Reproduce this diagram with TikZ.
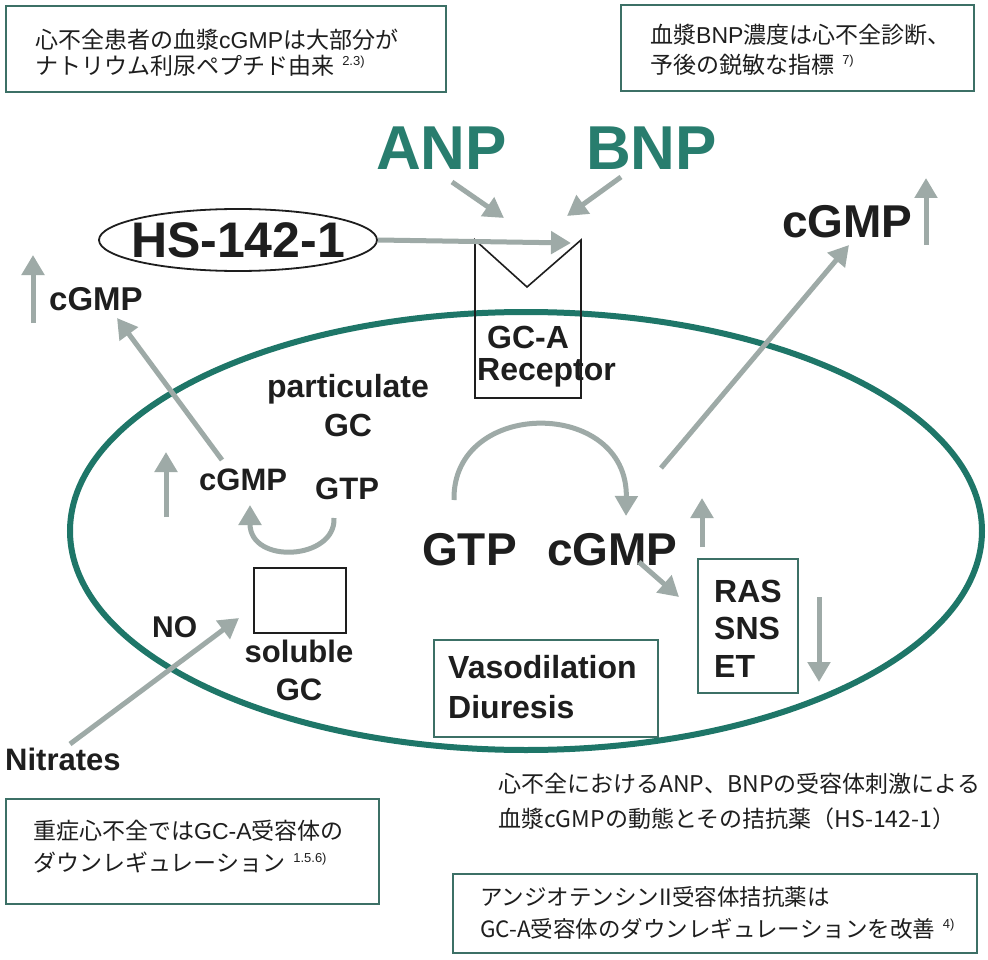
\documentclass[tikz,border=0pt]{standalone}
\usepackage{fontspec}
\setmainfont{Liberation Sans}
\newfontfamily\jpfont{Noto Sans CJK JP}
\usetikzlibrary{arrows.meta,shapes.geometric}
\definecolor{tealtxt}{RGB}{40,125,110}
\definecolor{cellc}{RGB}{30,118,104}
\definecolor{boxc}{RGB}{60,112,102}
\definecolor{arrc}{RGB}{158,170,167}
\definecolor{ink}{RGB}{30,30,30}
\newcommand\refnum[1]{\hspace{0.35em}\raisebox{9pt}{\normalfont\fontsize{13}{13}\selectfont #1}}
\newcommand\lat[1]{{\normalfont #1}}
\begin{document}
\begin{tikzpicture}[x=1pt,y=-1pt,
  lab/.style={font=\bfseries\fontsize{32}{32}\selectfont, text=ink, inner sep=0pt, anchor=base west},
  big/.style={lab, font=\bfseries\fontsize{46}{46}\selectfont},
  huge/.style={lab, font=\bfseries\fontsize{62}{62}\selectfont, text=tealtxt},
  jtext/.style={font=\jpfont\fontsize{23}{23}\selectfont, text=ink, inner sep=0pt, anchor=base west},
  jbox/.style={draw=boxc, line width=2pt, anchor=north west, inner sep=0pt},
  arr/.style={draw=arrc, line width=5pt, -{Triangle[width=22pt,length=20pt]}},
]
\fill[white] (0,0) rectangle (988,960);
\useasboundingbox (0,0) rectangle (988,960);

% cell membrane
\node[draw=cellc, line width=6pt, ellipse, minimum width=912pt, minimum height=438pt, inner sep=0pt] (cell) at (526,531) {};

% text boxes
\node[jbox, minimum width=440pt, minimum height=86pt] (boxTL) at (5,5) {};
\node[jtext] (tl1) at (35,49) {心不全患者の血漿\lat{cGMP}は大部分が};
\node[jtext] (tl2) at (35,75) {ナトリウム利尿ペプチド由来\refnum{2.3)}};

\node[jbox, minimum width=353pt, minimum height=86pt] (boxTR) at (620,4) {};
\node[jtext] (tr1) at (650,44) {血漿\lat{BNP}濃度は心不全診断、};
\node[jtext] (tr2) at (650,74) {予後の鋭敏な指標\refnum{7)}};

\node[jbox, minimum width=373pt, minimum height=105pt] (boxBL) at (5,798) {};
\node[jtext] (bl1) at (33,839) {重症心不全では\lat{GC-A}受容体の};
\node[jtext] (bl2) at (33,871) {ダウンレギュレーション\refnum{1.5.6)}};

\node[jtext] (cap1) at (498,792) {心不全におけるANP、BNPの受容体刺激による};
\node[jtext] (cap2) at (498,827) {血漿cGMPの動態とその拮抗薬（HS-142-1）};

\node[jbox, minimum width=524pt, minimum height=79pt] (boxBR) at (452,873) {};
\node[jtext, font=\jpfont\fontsize{22.5}{22.5}\selectfont] (br1) at (480,905) {アンジオテンシンII受容体拮抗薬は};
\node[jtext, font=\jpfont\fontsize{22.5}{22.5}\selectfont] (br2) at (480,937) {GC-A受容体のダウンレギュレーションを改善\refnum{4)}};

% ligands
\node[huge] (anp) at (376,170) {ANP};
\node[huge] (bnp) at (586,170) {BNP};

% antagonist
\node[draw=ink, line width=1.8pt, ellipse, minimum width=278pt, minimum height=62pt, inner sep=0pt] (hs) at (238,240) {};
\node[font=\bfseries\fontsize{50}{50}\selectfont, text=ink, inner sep=0pt] (hst) at (hs.center) {HS-142-1};

% receptor
\coordinate (recTL) at (475,240);
\coordinate (recV) at (527,287);
\coordinate (recTR) at (581,240);
\coordinate (recBR) at (581,398);
\coordinate (recBL) at (475,398);
\draw[ink, line width=1.6pt] (recTL) -- (recV) -- (recTR) -- (recBR) -- (recBL) -- cycle;
\node[lab] (gca) at (487,348) {GC-A};
\node[lab] (recep) at (477,380) {Receptor};

\coordinate (anpS) at (452,182);
\coordinate (anpE) at (504,218);
\coordinate (bnpS) at (621,177);
\coordinate (bnpE) at (567,216);
\coordinate (hsE) at (571,243);
\draw[arr] (anpS) -- (anpE);
\draw[arr] (bnpS) -- (bnpE);
\draw[arr] (hs.east) -- (hsE);

% particulate GC
\node[lab, anchor=base] (part1) at (348,397) {particulate};
\node[lab, anchor=base] (part2) at (348,436) {GC};

% outer right cGMP
\node[big] (cgmpR) at (782,237) {cGMP};
\coordinate (upR1) at (926,245);
\coordinate (upR2) at (926,178);
\draw[arr] (upR1) -- (upR2);
\coordinate (outS) at (661,468);
\coordinate (outE) at (849,245);
\draw[arr] (outS) -- (outE);

% main reaction
\node[big] (gtp) at (422,565) {GTP};
\node[big] (cgmpM) at (547,565) {cGMP};
\coordinate (arcS) at (454,500);
\coordinate (arcE) at (626,516);
\draw[arr] (arcS) .. controls (452,398) and (628,398) .. (arcE);
\coordinate (upM1) at (702,547);
\coordinate (upM2) at (702,498);
\draw[arr] (upM1) -- (upM2);
\coordinate (rasS) at (639,562);
\coordinate (rasE) at (679,597);
\draw[arr] (rasS) -- (rasE);

% RAS box
\node[jbox, minimum width=100pt, minimum height=134pt] (ras) at (697,558) {};
\node[lab] (ras1) at (714,602) {RAS};
\node[lab] (ras2) at (714,639) {SNS};
\node[lab] (ras3) at (714,677) {ET};
\coordinate (dn1) at (819,597);
\coordinate (dn2) at (819,682);
\draw[arr] (dn1) -- (dn2);

% Vasodilation box
\node[jbox, minimum width=224pt, minimum height=97pt] (vaso) at (433,639) {};
\node[lab] (vaso1) at (448,678) {Vasodilation};
\node[lab] (vaso2) at (448,718) {Diuresis};

% soluble GC
\node[draw=ink, line width=1.5pt, anchor=north west, minimum width=92pt, minimum height=65pt, inner sep=0pt] (sgc) at (253,567) {};
\node[lab, anchor=base, font=\bfseries\fontsize{31}{31}\selectfont] (sol1) at (299,662) {soluble};
\node[lab, anchor=base, font=\bfseries\fontsize{31}{31}\selectfont] (sol2) at (299,700) {GC};

% small cycle
\node[lab, font=\bfseries\fontsize{31}{31}\selectfont] (cgmpS) at (199,490) {cGMP};
\node[lab, font=\bfseries\fontsize{31}{31}\selectfont] (gtpS) at (315,499) {GTP};
\coordinate (uS) at (334,518);
\coordinate (uE) at (250,505);
\draw[arr] (uS) .. controls (336,560) and (250,565) .. (uE);
\coordinate (upS1) at (166,517);
\coordinate (upS2) at (166,452);
\draw[arr] (upS1) -- (upS2);
\coordinate (diagS) at (222,460);
\coordinate (diagE) at (117,318);
\draw[arr] (diagS) -- (diagE);

% outer left cGMP
\node[lab, font=\bfseries\fontsize{33}{33}\selectfont] (cgmpL) at (49,310) {cGMP};
\coordinate (upL1) at (33,323);
\coordinate (upL2) at (33,255);
\draw[arr] (upL1) -- (upL2);

% NO / Nitrates
\node[lab, font=\bfseries\fontsize{30}{30}\selectfont] (no) at (152,637) {NO};
\node[lab, font=\bfseries\fontsize{31}{31}\selectfont] (nit) at (5,770) {Nitrates};
\coordinate (nitS) at (70,744);
\coordinate (nitE) at (239,618);
\draw[arr] (nitS) -- (nitE);
\end{tikzpicture}
\end{document}
